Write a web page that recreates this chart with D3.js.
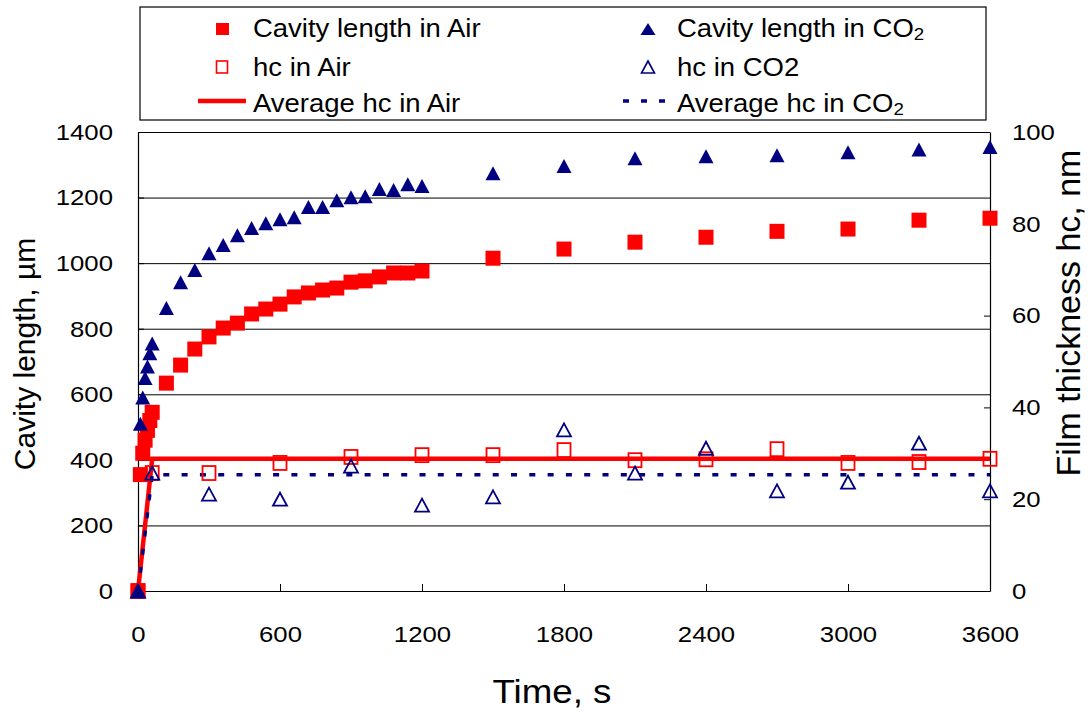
<!DOCTYPE html>
<html>
<head>
<meta charset="utf-8">
<script src="https://cdn.jsdelivr.net/npm/d3@7"></script>
<style>
  body { margin: 0; background: #fff; }
  text { font-family: "Liberation Sans", Arial, sans-serif; fill: #000; }
</style>
</head>
<body>
<div id="chart"></div>
<script>
// data
const cavTime = [0, 10, 20, 30, 40, 50, 60,
  120, 180, 240, 300, 360, 420, 480, 540, 600, 660, 720, 780, 840, 900, 960, 1020, 1080, 1140, 1200,
  1500, 1800, 2100, 2400, 2700, 3000, 3300, 3600]
const cavAir = [0, 355, 420, 460, 490, 520, 545,
  634, 689, 738, 775, 802, 817, 845, 860, 875, 897, 909, 918, 924, 942, 946, 958, 970, 970, 976,
  1015, 1043, 1064, 1079, 1097, 1104, 1131, 1137]
const cavCO2 = [0, 510, 590, 650, 685, 725, 755,
  863, 942, 979, 1030, 1055, 1085, 1107, 1122, 1134, 1140, 1171, 1171, 1192, 1201, 1204, 1226, 1223, 1241, 1235,
  1274, 1296, 1320, 1326, 1329, 1338, 1347, 1354]

const hcTime = [0, 60, 300, 600, 900, 1200, 1500, 1800, 2100, 2400, 2700, 3000, 3300, 3600]
const hcAir = [0, 25.7, 25.7, 27.9, 29.2, 29.6, 29.6, 30.7, 28.5, 28.7, 30.9, 27.9, 28.1, 28.8]
const hcCO2 = [0, 25.7, 21.1, 20.0, 27.2, 18.7, 20.5, 35.1, 25.7, 31.1, 21.8, 23.7, 32.2, 21.8]

const avgTime = [0, 60, 3600]
const avgAir = [0, 28.8, 28.8]
const avgCO2 = [0, 25.3, 25.3]

const xTicks = [0, 600, 1200, 1800, 2400, 3000, 3600]
const leftTicks = [0, 200, 400, 600, 800, 1000, 1200, 1400]
const rightTicks = [0, 20, 40, 60, 80, 100]

const RED = "#ff0000", NAVY = "#000080"

var width = 1091, height = 716
var svg = d3.select("#chart").append("svg")
  .attr("width", width).attr("height", height)
  .style("background", "#fff")

var x = d3.scaleLinear().domain([0, 3600]).range([138, 990])
var yL = d3.scaleLinear().domain([0, 1400]).range([591, 132])
var yR = d3.scaleLinear().domain([0, 100]).range([591, 132])
var fmt = d3.format("d")

// stretch text a bit wider, like the original
function stretch(sel, k, origin) {
  sel.style("transform", `scaleX(${k})`)
    .style("transform-box", "fill-box")
    .style("transform-origin", origin)
}

// gridlines
svg.append("g")
  .attr("transform", "translate(138,0)")
  .call(d3.axisLeft(yL).tickValues(leftTicks.slice(1)).tickSize(-(990 - 138)).tickFormat(""))
  .call(g => g.select(".domain").remove())
  .selectAll("line").attr("stroke", "#000").attr("stroke-width", 1)

// left axis
var gL = svg.append("g")
  .attr("transform", "translate(138,0)")
  .call(d3.axisLeft(yL).tickValues(leftTicks).tickFormat(fmt).tickSizeInner(-6).tickSizeOuter(0).tickPadding(25))
gL.selectAll("text").style("font-size", "23px").call(stretch, 1.12, "right center")

// right axis
var gR = svg.append("g")
  .attr("transform", "translate(990,0)")
  .call(d3.axisRight(yR).tickValues(rightTicks).tickFormat(fmt).tickSizeInner(-6).tickSizeOuter(0).tickPadding(22))
gR.selectAll("text").style("font-size", "23px").call(stretch, 1.12, "left center")

// bottom axis
var gB = svg.append("g")
  .attr("transform", "translate(0,591)")
  .call(d3.axisBottom(x).tickValues(xTicks).tickFormat(fmt).tickSizeInner(-7).tickSizeOuter(0).tickPadding(35))
gB.selectAll("text").style("font-size", "23px").call(stretch, 1.12, "center")

svg.selectAll(".domain").attr("stroke", "#000").attr("stroke-width", 1.2)
svg.selectAll(".tick line").attr("stroke", "#000")
svg.selectAll(".tick text").attr("fill", "#000").attr("font-family", null)

// axis titles
svg.append("text")
  .attr("x", 552).attr("y", 703)
  .attr("text-anchor", "middle")
  .style("font-size", "34px")
  .text("Time, s")
  .call(stretch, 1.08, "center")

svg.append("text")
  .attr("transform", "translate(35,354) rotate(-90)")
  .attr("text-anchor", "middle")
  .style("font-size", "30px")
  .text("Cavity length, µm")

svg.append("text")
  .attr("transform", "translate(1080,313) rotate(-90)")
  .attr("text-anchor", "middle")
  .style("font-size", "34px")
  .text("Film thickness hc, nm")

// average lines (secondary axis)
var line = (ys) => d3.line().x((d, i) => x(avgTime[i])).y(d => yR(d))(ys)

svg.append("path")
  .attr("d", line(avgAir))
  .attr("fill", "none").attr("stroke", RED).attr("stroke-width", 4.5)

svg.append("path")
  .attr("d", line(avgCO2))
  .attr("fill", "none").attr("stroke", NAVY).attr("stroke-width", 3.5)
  .attr("stroke-dasharray", "6,12.3")

// markers
function tri(w, h) {
  return `M0,${-h / 2}L${w / 2},${h / 2}L${-w / 2},${h / 2}Z`
}

svg.append("g").selectAll("rect")
  .data(cavAir)
  .join("rect")
  .attr("x", (d, i) => x(cavTime[i]) - 7.5)
  .attr("y", d => yL(d) - 7.5)
  .attr("width", 15).attr("height", 15)
  .attr("fill", RED)

svg.append("g").selectAll("path")
  .data(cavCO2)
  .join("path")
  .attr("transform", (d, i) => `translate(${x(cavTime[i])},${yL(d)})`)
  .attr("d", tri(15, 14))
  .attr("fill", NAVY)

svg.append("g").selectAll("rect")
  .data(hcAir)
  .join("rect")
  .attr("x", (d, i) => x(hcTime[i]) - 6.5)
  .attr("y", d => yR(d) - 7)
  .attr("width", 13).attr("height", 14)
  .attr("fill", "none").attr("stroke", RED).attr("stroke-width", 1.8)

svg.append("g").selectAll("path")
  .data(hcCO2)
  .join("path")
  .attr("transform", (d, i) => `translate(${x(hcTime[i])},${yR(d)})`)
  .attr("d", tri(14, 13))
  .attr("fill", "none").attr("stroke", NAVY).attr("stroke-width", 1.8)

// legend
var lg = svg.append("g")
lg.append("rect")
  .attr("x", 140).attr("y", 7).attr("width", 846).attr("height", 113)
  .attr("fill", "#fff").attr("stroke", "#000").attr("stroke-width", 1.2)

lg.append("rect").attr("x", 216).attr("y", 23).attr("width", 13).attr("height", 12).attr("fill", RED)
lg.append("rect").attr("x", 216.5).attr("y", 61).attr("width", 11).attr("height", 12)
  .attr("fill", "none").attr("stroke", RED).attr("stroke-width", 1.6)
lg.append("line").attr("x1", 198).attr("x2", 246).attr("y1", 101).attr("y2", 101)
  .attr("stroke", RED).attr("stroke-width", 4.5)

lg.append("path").attr("transform", "translate(648,29)").attr("d", tri(15, 12)).attr("fill", NAVY)
lg.append("path").attr("transform", "translate(648,67)").attr("d", tri(13, 12))
  .attr("fill", "none").attr("stroke", NAVY).attr("stroke-width", 1.6)
lg.append("line").attr("x1", 623).attr("x2", 666).attr("y1", 101).attr("y2", 101)
  .attr("stroke", NAVY).attr("stroke-width", 3.5).attr("stroke-dasharray", "6,12")

const legendRows = [
  { x: 253, y: 37, t: "Cavity length in Air" },
  { x: 253, y: 76, t: "hc in Air" },
  { x: 253, y: 112, t: "Average hc in Air" },
  { x: 677, y: 37, t: "Cavity length in CO", sub: "2" },
  { x: 677, y: 76, t: "hc in CO2" },
  { x: 677, y: 112, t: "Average hc in CO", sub: "2" }
]
legendRows.forEach(r => {
  var t = lg.append("text").attr("x", r.x).attr("y", r.y).style("font-size", "25px")
  t.append("tspan").text(r.t)
  if (r.sub) t.append("tspan").attr("dy", 3).style("font-size", "17px").text(r.sub)
  t.call(stretch, 1.1, "left center")
})
</script>
</body>
</html>
